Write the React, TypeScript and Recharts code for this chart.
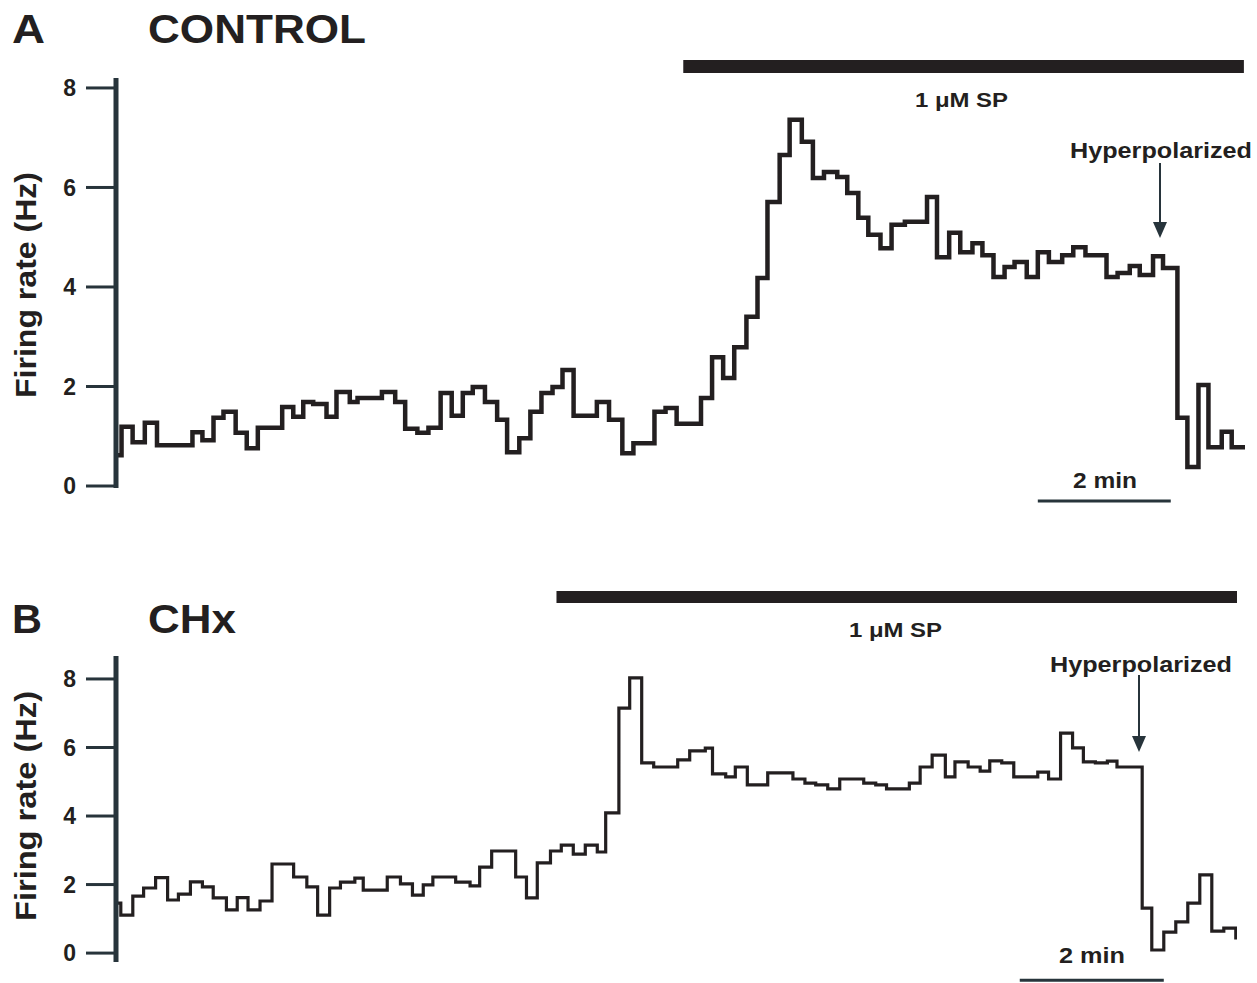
import React from "react";
import { LineChart, Line, XAxis, YAxis, ReferenceArea, ReferenceLine } from "recharts";

// time (s) at each step change, firing rate (Hz) held until the next step
const timesA = [0, 5, 15, 26, 37, 69, 78, 88, 97, 108, 118, 128, 150, 160, 169, 178, 190, 199, 211, 218, 240, 252, 261, 272, 282, 293, 303, 313, 322, 333, 344, 353, 364, 374, 384, 394, 403, 413, 434, 445, 457, 467, 486, 496, 506, 528, 538, 548, 558, 569, 579, 588, 599, 608, 619, 629, 639, 651, 660, 670, 679, 690, 700, 712, 732, 741, 752, 762, 773, 782, 792, 802, 811, 822, 832, 842, 854, 864, 875, 894, 904, 915, 924, 936, 945, 958, 967, 977, 986, 998, 1007, 1019];
const ratesA = [0.62, 1.19, 0.88, 1.27, 0.82, 1.08, 0.92, 1.37, 1.49, 1.07, 0.76, 1.17, 1.59, 1.39, 1.69, 1.65, 1.39, 1.89, 1.69, 1.77, 1.89, 1.69, 1.15, 1.07, 1.17, 1.87, 1.41, 1.87, 1.99, 1.69, 1.33, 0.68, 0.96, 1.49, 1.87, 1.99, 2.33, 1.41, 1.69, 1.33, 0.66, 0.86, 1.49, 1.57, 1.25, 1.77, 2.59, 2.17, 2.79, 3.4, 4.18, 5.71, 6.65, 7.36, 6.92, 6.19, 6.31, 6.21, 5.89, 5.39, 5.05, 4.78, 5.25, 5.31, 5.81, 4.6, 5.09, 4.7, 4.88, 4.64, 4.2, 4.4, 4.5, 4.2, 4.7, 4.5, 4.64, 4.8, 4.64, 4.2, 4.28, 4.42, 4.24, 4.62, 4.38, 1.37, 0.38, 2.03, 0.78, 1.09, 0.78, 0.78];

const timesB = [0, 4, 14, 23, 33, 43, 52, 62, 72, 81, 92, 101, 110, 120, 130, 148, 159, 168, 178, 187, 199, 206, 226, 237, 247, 256, 264, 283, 295, 303, 313, 333, 342, 351, 362, 371, 381, 391, 401, 408, 419, 428, 438, 448, 468, 478, 491, 497, 508, 516, 526, 543, 564, 574, 583, 593, 603, 623, 633, 642, 661, 670, 680, 691, 699, 710, 720, 728, 738, 748, 768, 777, 787, 797, 806, 816, 826, 834, 855, 863, 873, 883, 893, 903, 913, 923, 933, 934];
const ratesB = [1.46, 1.11, 1.66, 1.9, 2.2, 1.55, 1.72, 2.08, 1.93, 1.61, 1.26, 1.62, 1.26, 1.52, 2.6, 2.22, 1.93, 1.11, 1.9, 2.07, 2.19, 1.84, 2.22, 2.02, 1.69, 1.99, 2.22, 2.07, 1.96, 2.51, 2.98, 2.22, 1.61, 2.63, 2.98, 3.15, 2.89, 3.15, 2.95, 4.09, 7.15, 8.03, 5.55, 5.43, 5.64, 5.9, 5.98, 5.23, 5.14, 5.43, 4.91, 5.26, 5.08, 4.96, 4.91, 4.79, 5.08, 4.96, 4.91, 4.79, 4.96, 5.43, 5.78, 5.14, 5.58, 5.43, 5.31, 5.61, 5.55, 5.14, 5.28, 5.08, 6.42, 5.99, 5.58, 5.55, 5.6, 5.43, 1.31, 0.09, 0.61, 0.91, 1.46, 2.28, 0.64, 0.73, 0.44, 0.44];

const yTicks = [0, 2, 4, 6, 8];

// substance P application window and the 2-min scale bar (s)
const spA = [512, 1018];
const spB = [367, 934];
const scaleA = [832, 952];
const scaleB = [753, 873];

const dataA = timesA.map((t, i) => ({ t, rate: ratesA[i] }));
const dataB = timesB.map((t, i) => ({ t, rate: ratesB[i] }));

const font = "'Liberation Sans', Arial, sans-serif";
const ink = "#231f20";
const slate = "#27343b";

const tickStyle = { fontSize: 23, fontWeight: 700, fill: ink, fontFamily: font };

type PanelProps = {
  data: { t: number; rate: number }[];
  top: number;
  height: number;
  margin: { top: number; right: number; bottom: number; left: number };
  xMax: number;
  yDomain: [number, number];
  sp: number[];
  spY: [number, number];
  scale: number[];
  scaleY: number;
  strokeWidth: number;
};

const Panel: React.FC<PanelProps> = (p) => (
  <div style={{ position: "absolute", left: 0, top: p.top }}>
    <LineChart width={1257} height={p.height} data={p.data} margin={p.margin}>
      <XAxis type="number" dataKey="t" domain={[0, p.xMax]} hide allowDataOverflow />
      <YAxis
        type="number"
        domain={p.yDomain}
        allowDataOverflow
        ticks={yTicks}
        width={116}
        tickSize={30}
        tickMargin={10}
        axisLine={{ stroke: slate, strokeWidth: 5 }}
        tickLine={{ stroke: slate, strokeWidth: 3 }}
        tick={tickStyle}
      />
      <ReferenceArea
        x1={p.sp[0]}
        x2={p.sp[1]}
        y1={p.spY[0]}
        y2={p.spY[1]}
        fill={ink}
        fillOpacity={1}
        stroke="none"
        ifOverflow="visible"
      />
      <ReferenceLine
        segment={[
          { x: p.scale[0], y: p.scaleY },
          { x: p.scale[1], y: p.scaleY },
        ]}
        stroke={slate}
        strokeWidth={3}
        ifOverflow="visible"
      />
      <Line
        type="stepAfter"
        dataKey="rate"
        stroke={ink}
        strokeWidth={p.strokeWidth}
        dot={false}
        isAnimationActive={false}
      />
    </LineChart>
  </div>
);

const Arrow: React.FC<{ x: number; y1: number; y2: number }> = ({ x, y1, y2 }) => (
  <g>
    <line x1={x} y1={y1} x2={x} y2={y2 - 14} stroke={slate} strokeWidth={2} />
    <polygon points={`${x - 7},${y2 - 16} ${x + 7},${y2 - 16} ${x},${y2}`} fill={slate} />
  </g>
);

const App: React.FC = () => {
  const t = { fontFamily: font, fontWeight: 700, fill: ink } as const;
  return (
    <div style={{ position: "absolute", left: 0, top: 0, width: 1257, height: 983, background: "#fff" }}>
      <Panel
        data={dataA}
        top={0}
        height={520}
        margin={{ top: 78, right: 12, bottom: 32, left: 0 }}
        xMax={1019}
        yDomain={[-0.04, 8.2]}
        sp={spA}
        spY={[8.3, 8.56]}
        scale={scaleA}
        scaleY={-0.3}
        strokeWidth={4.5}
      />
      <Panel
        data={dataB}
        top={560}
        height={423}
        margin={{ top: 96, right: 20, bottom: 21, left: 0 }}
        xMax={934}
        yDomain={[-0.26, 8.67]}
        sp={spB}
        spY={[10.22, 10.57]}
        scale={scaleB}
        scaleY={-0.79}
        strokeWidth={3.2}
      />
      <svg
        width={1257}
        height={983}
        style={{ position: "absolute", left: 0, top: 0, pointerEvents: "none" }}
      >
        <text x={12} y={43} fontSize={40} textLength={33} lengthAdjust="spacingAndGlyphs" {...t}>A</text>
        <text x={148} y={43} fontSize={40} textLength={218} lengthAdjust="spacingAndGlyphs" {...t}>CONTROL</text>
        <text x={915} y={107} fontSize={21} textLength={93} lengthAdjust="spacingAndGlyphs" {...t}>1 μM SP</text>
        <text x={1070} y={158} fontSize={22} textLength={182} lengthAdjust="spacingAndGlyphs" {...t}>Hyperpolarized</text>
        <text x={1073} y={488} fontSize={22} textLength={64} lengthAdjust="spacingAndGlyphs" {...t}>2 min</text>
        <text
          x={36}
          y={285}
          fontSize={30}
          textAnchor="middle"
          textLength={226}
          lengthAdjust="spacingAndGlyphs"
          transform="rotate(-90 36 285)"
          {...t}
        >
          Firing rate (Hz)
        </text>
        <Arrow x={1160} y1={163} y2={238} />

        <text x={12} y={633} fontSize={40} textLength={30} lengthAdjust="spacingAndGlyphs" {...t}>B</text>
        <text x={148} y={633} fontSize={40} textLength={88} lengthAdjust="spacingAndGlyphs" {...t}>CHx</text>
        <text x={849} y={637} fontSize={21} textLength={93} lengthAdjust="spacingAndGlyphs" {...t}>1 μM SP</text>
        <text x={1050} y={672} fontSize={22} textLength={182} lengthAdjust="spacingAndGlyphs" {...t}>Hyperpolarized</text>
        <text x={1059} y={963} fontSize={22} textLength={66} lengthAdjust="spacingAndGlyphs" {...t}>2 min</text>
        <text
          x={36}
          y={806}
          fontSize={30}
          textAnchor="middle"
          textLength={230}
          lengthAdjust="spacingAndGlyphs"
          transform="rotate(-90 36 806)"
          {...t}
        >
          Firing rate (Hz)
        </text>
        <Arrow x={1139} y1={675} y2={752} />
      </svg>
    </div>
  );
};

export default App;
